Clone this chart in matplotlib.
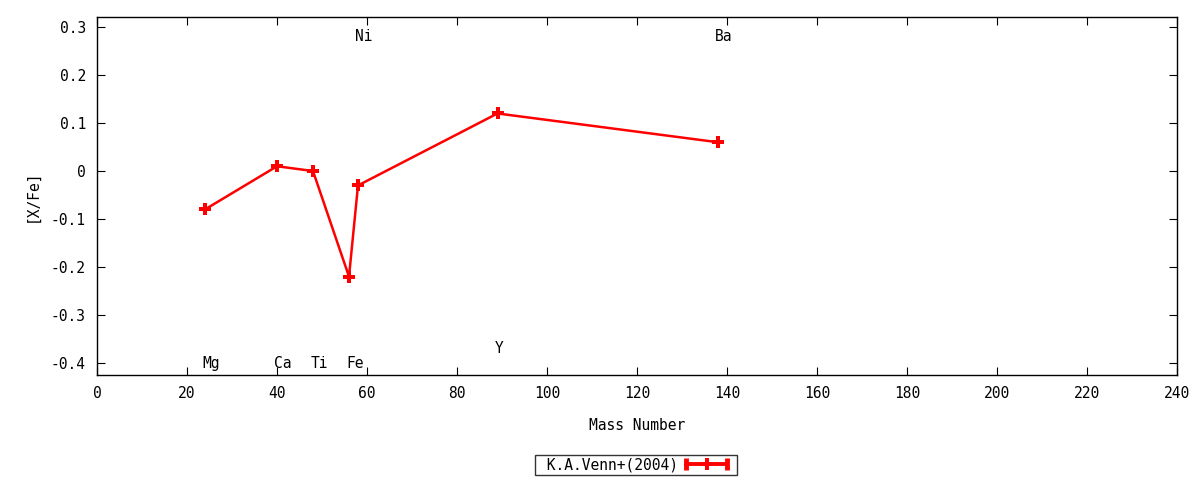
import matplotlib
matplotlib.use("Agg")
import matplotlib.pyplot as plt
from matplotlib.legend_handler import HandlerBase
from matplotlib.lines import Line2D

mass = [24, 40, 48, 56, 58, 89, 138]
xfe = [-0.08, 0.01, 0.0, -0.22, -0.03, 0.12, 0.06]
label_names = ["Mg", "Ca", "Ti", "Fe", "Ni", "Y", "Ba"]
label_x = [24, 40, 48, 56, 58, 89, 138]
label_y = [-0.40, -0.40, -0.40, -0.40, 0.28, -0.37, 0.28]
xticks = list(range(0, 241, 20))
yticks = [0.3, 0.2, 0.1, 0, -0.1, -0.2, -0.3, -0.4]

RED = '#ff0000'


class CapHandler(HandlerBase):
    def create_artists(self, legend, orig_handle, xdescent, ydescent,
                       width, height, fontsize, trans):
        y = height / 2 - ydescent
        x0, x1 = -xdescent, width - xdescent - 5
        line = Line2D([x0, x1], [y, y], color=RED, lw=2.8, transform=trans)
        caps = Line2D([x0, x1], [y, y], color=RED, lw=0, marker='|',
                      markersize=8, markeredgewidth=3.5, transform=trans)
        mid = Line2D([(x0 + x1) / 2], [y], color=RED, lw=0, marker='P',
                     markersize=8, markeredgewidth=0, transform=trans)
        return [line, caps, mid]


plt.rcParams['font.family'] = ['DejaVu Sans Mono']
fig = plt.figure(figsize=(12, 4.8), dpi=100)
ax = fig.add_axes([97/1200, 1-375/480, (1177-97)/1200, (375-17)/480])

ln, = ax.plot(mass, xfe, color=RED, lw=1.8, marker='P', markersize=9,
              markeredgewidth=0, label='K.A.Venn+(2004)')
for n, x, y in zip(label_names, label_x, label_y):
    ax.text(x - 0.6, y, n, ha='left', va='center', fontsize=10.5)

ax.set_xlim(0, 240)
ax.set_ylim(-0.425, 0.321)
ax.set_xticks(xticks)
ax.set_yticks(yticks)
ax.set_yticklabels(['0.3', '0.2', '0.1', '0', '-0.1', '-0.2', '-0.3', '-0.4'])
ax.tick_params(direction='in', top=True, right=True, length=6, labelsize=10.5, pad=8)
ax.set_xlabel('Mass Number', fontsize=10.5, labelpad=12)
ax.set_ylabel('[X/Fe]', fontsize=10.5, labelpad=8)
for s in ax.spines.values():
    s.set_linewidth(1)

leg = fig.legend(handles=[ln], labels=[' K.A.Venn+(2004)'], loc='center',
                 bbox_to_anchor=(636/1200, 1-465/480), markerfirst=False,
                 fontsize=10.5, frameon=True, fancybox=False, edgecolor='black',
                 handlelength=3.3, borderpad=0.15, handletextpad=0.6,
                 borderaxespad=0, handler_map={Line2D: CapHandler()})
leg.get_frame().set_linewidth(1)

fig.savefig('out.png', dpi=100)
